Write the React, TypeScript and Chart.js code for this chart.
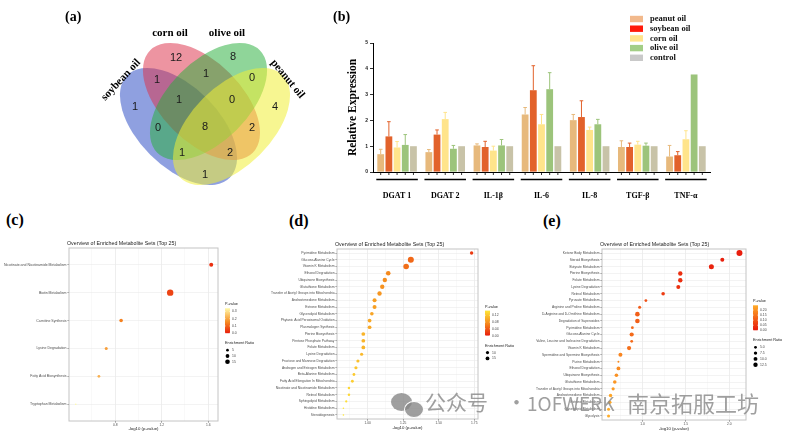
import React, { useEffect, useRef } from 'react';
import { Chart, registerables } from 'chart.js';
Chart.register(...registerables);

// ---------------- Data ----------------
// (a) Venn
const vennSets = ['soybean oil', 'corn oil', 'olive oil', 'peanut oil'];
const vennRegionKeys = ['A', 'B', 'C', 'D', 'AB', 'BC', 'CD', 'AC', 'BD', 'AD', 'ABC', 'BCD', 'ACD', 'ABD', 'ABCD'];
const vennCounts = [1, 12, 8, 4, 1, 1, 0, 0, 2, 1, 1, 0, 1, 2, 8];

// (b) qPCR bars
const genes = ['DGAT 1', 'DGAT 2', 'IL-1β', 'IL-6', 'IL-8', 'TGF-β', 'TNF-α'];
const oils = ['peanut oil', 'soybean oil', 'corn oil', 'olive oil', 'control'];
const peanutMean = [0.69, 0.77, 1.03, 2.23, 2.01, 0.97, 0.6];
const peanutSd = [0.19, 0.1, 0.06, 0.27, 0.22, 0.24, 0.43];
const soybeanMean = [1.38, 1.45, 0.97, 3.17, 2.13, 0.97, 0.65];
const soybeanSd = [0.57, 0.18, 0.22, 0.95, 0.63, 0.15, 0.14];
const cornMean = [0.95, 2.05, 0.83, 1.85, 1.63, 1.06, 1.27];
const cornSd = [0.23, 0.26, 0.17, 0.38, 0.11, 0.13, 0.33];
const oliveMean = [1.05, 0.9, 1.03, 3.21, 1.85, 1.02, 3.78];
const oliveSd = [0.4, 0.13, 0.23, 0.64, 0.19, 0.1, 0];
const controlMean = [1, 1, 1, 1, 1, 1, 1];
const controlSd = [0, 0, 0, 0, 0, 0, 0];
const yTicksB = [0, 1, 2, 3, 4, 5];

// (c) enrichment
const cSets = ['Nicotinate and Nicotinamide Metabolism', 'Biotin Metabolism', 'Carnitine Synthesis', 'Lysine Degradation', 'Fatty Acid Biosynthesis', 'Tryptophan Metabolism'];
const cLogP = [1.626, 1.273, 0.851, 0.723, 0.66, 0.461];
const cRatio = [11.1, 28.4, 9.0, 6.3, 5.4, 1.8];
const cMajor = [0.8, 1.2, 1.6];
const cMinor = [0.6, 1.0, 1.4];
const cPTicks = [0, 0.1, 0.2, 0.3];
const cRatioLegend = [5, 10, 15];

// (d) enrichment
const dSets = ['Pyrimidine Metabolism', 'Glucose-Alanine Cycle', 'Vitamin K Metabolism', 'Ethanol Degradation', 'Ubiquinone Biosynthesis', 'Glutathione Metabolism', 'Transfer of Acetyl Groups into Mitochondria', 'Androstenedione Metabolism', 'Estrone Metabolism', 'Glycerolipid Metabolism', 'Phytanic Acid Peroxisomal Oxidation', 'Plasmalogen Synthesis', 'Pterine Biosynthesis', 'Pentose Phosphate Pathway', 'Folate Metabolism', 'Lysine Degradation', 'Fructose and Mannose Degradation', 'Androgen and Estrogen Metabolism', 'Beta-Alanine Metabolism', 'Fatty Acid Elongation In Mitochondria', 'Nicotinate and Nicotinamide Metabolism', 'Retinol Metabolism', 'Sphingolipid Metabolism', 'Histidine Metabolism', 'Steroidogenesis'];
const dLogP = [1.731, 1.304, 1.271, 1.145, 1.121, 1.103, 1.084, 1.049, 1.049, 1.03, 1.014, 1.014, 0.97, 0.97, 0.97, 0.958, 0.932, 0.918, 0.904, 0.893, 0.869, 0.869, 0.85, 0.83, 0.83];
const dRatio = [11.6, 36, 31, 21, 19, 19, 19, 16, 16, 13, 14, 14, 14, 14, 14, 10, 10, 10, 8, 8, 6.3, 6.3, 5, 2.6, 2.6];
const dMajor = [1.0, 1.25, 1.5, 1.75];
const dMinor = [0.875, 1.125, 1.375, 1.625];
const dPTicks = [0, 0.04, 0.08, 0.12];
const dRatioLegend = [10, 15];

// (e) enrichment
const eSets = ['Ketone Body Metabolism', 'Steroid Biosynthesis', 'Butyrate Metabolism', 'Pterine Biosynthesis', 'Folate Metabolism', 'Lysine Degradation', 'Retinol Metabolism', 'Pyruvate Metabolism', 'Arginine and Proline Metabolism', 'D-Arginine and D-Ornithine Metabolism', 'Degradation of Superoxides', 'Pyrimidine Metabolism', 'Glucose-Alanine Cycle', 'Valine, Leucine and Isoleucine Degradation', 'Vitamin K Metabolism', 'Spermidine and Spermine Biosynthesis', 'Purine Metabolism', 'Ethanol Degradation', 'Ubiquinone Biosynthesis', 'Glutathione Metabolism', 'Transfer of Acetyl Groups into Mitochondria', 'Androstenedione Metabolism', 'Estrone Metabolism', 'Glycerolipid Metabolism', 'Glycolysis'];
const eLogP = [2.118, 1.92, 1.794, 1.435, 1.435, 1.412, 1.237, 1.038, 0.966, 0.94, 0.94, 0.882, 0.874, 0.874, 0.844, 0.744, 0.721, 0.721, 0.698, 0.679, 0.66, 0.63, 0.622, 0.607, 0.607];
const eRatio = [23.4, 10.4, 16.3, 12.6, 12.6, 10.4, 8.4, 5.1, 5.9, 13.8, 13.8, 5.1, 11.5, 5.1, 11.5, 10.4, 2.6, 9.4, 8.4, 8.4, 6.7, 7.5, 7.5, 5.9, 5.9];
const eMajor = [1.0, 1.5, 2.0];
const eMinor = [0.75, 1.25, 1.75];
const ePTicks = [0, 0.05, 0.1, 0.15, 0.2];
const eRatioLegend = [5, 7.5, 10, 12.5];

// ---------------- Styles ----------------
const SERIF = '"Liberation Serif", "Times New Roman", serif';
const SANS = '"Liberation Sans", Arial, sans-serif';

const VENN_COLORS = ['rgba(55,85,200,0.56)', 'rgba(220,50,75,0.52)', 'rgba(40,175,60,0.52)', 'rgba(240,238,55,0.55)'];
const VENN_ELLIPSES = [
  { cx: 178.5, cy: 126.5, rot: Math.PI / 4 },
  { cx: 201.5, cy: 101.5, rot: Math.PI / 4 },
  { cx: 208.5, cy: 101.5, rot: -Math.PI / 4 },
  { cx: 231.5, cy: 126.5, rot: -Math.PI / 4 },
];
const VENN_A = 72.5;
const VENN_B = 40;
const VENN_POS: Record<string, [number, number]> = {
  A: [135, 107], B: [176, 58], C: [233, 57], D: [275, 107],
  AB: [157, 80], BC: [206, 74], CD: [252, 78], AC: [158, 128], BD: [252, 128], AD: [205, 175],
  ABC: [179, 100], BCD: [232, 100], ACD: [182, 153], ABD: [230, 153], ABCD: [205, 127],
};
const VENN_LABEL_POS: [number, number, number][] = [
  [121, 80, -0.82], [170, 33, 0], [227, 33, 0], [287.5, 79, 0.88],
];

const BAR_COLORS = ['#E7B97C', '#E2622B', '#FFE48B', '#9CC47B', '#C8C3A8'];
const LEGEND_COLORS = ['#F2B98C', '#FF1A0A', '#FFE48C', '#A3CE86', '#C9C9C9'];

type Stops = [number, number[]][];
function interp(stops: Stops, t: number) {
  t = Math.max(0, Math.min(1, t));
  for (let i = 0; i < stops.length - 1; i++) {
    const [t0, c0] = stops[i];
    const [t1, c1] = stops[i + 1];
    if (t <= t1) {
      const f = (t - t0) / (t1 - t0);
      const c = c0.map((v, k) => Math.round(v + (c1[k] - v) * f));
      return `rgb(${c[0]},${c[1]},${c[2]})`;
    }
  }
  const c = stops[stops.length - 1][1];
  return `rgb(${c[0]},${c[1]},${c[2]})`;
}

// ---------------- Venn ----------------
function makeVenn(canvas: HTMLCanvasElement) {
  const plugin = {
    id: 'vennDraw',
    afterDraw(chart: any) {
      const { ctx } = chart;
      const xs = chart.scales.x;
      const ys = chart.scales.y;
      ctx.save();
      VENN_ELLIPSES.forEach((e, i) => {
        const cx = xs.getPixelForValue(e.cx);
        const cy = ys.getPixelForValue(e.cy);
        const a = xs.getPixelForValue(e.cx + VENN_A) - cx;
        const b = xs.getPixelForValue(e.cx + VENN_B) - cx;
        ctx.beginPath();
        ctx.ellipse(cx, cy, a, b, e.rot, 0, Math.PI * 2);
        ctx.fillStyle = VENN_COLORS[i];
        ctx.fill();
      });
      ctx.fillStyle = '#1a1a1a';
      ctx.font = `11px ${SANS}`;
      ctx.textAlign = 'center';
      ctx.textBaseline = 'middle';
      vennRegionKeys.forEach((k, i) => {
        const [px, py] = VENN_POS[k];
        ctx.fillText(String(vennCounts[i]), xs.getPixelForValue(px), ys.getPixelForValue(py));
      });
      ctx.font = `bold 11px ${SERIF}`;
      ctx.fillStyle = '#000';
      vennSets.forEach((name, i) => {
        const [px, py, rot] = VENN_LABEL_POS[i];
        ctx.save();
        ctx.translate(xs.getPixelForValue(px), ys.getPixelForValue(py));
        ctx.rotate(rot);
        ctx.fillText(name, 0, 0);
        ctx.restore();
      });
      ctx.restore();
    },
  };
  return new Chart(canvas, {
    type: 'scatter',
    data: { datasets: [] },
    options: {
      animation: false, responsive: false, events: [],
      layout: { padding: 0 },
      plugins: { legend: { display: false }, tooltip: { enabled: false } },
      scales: {
        x: { display: false, min: 0, max: 330 },
        y: { display: false, min: 0, max: 200, reverse: true },
      },
    },
    plugins: [plugin],
  } as any);
}

// ---------------- Bars ----------------
function makeBars(canvas: HTMLCanvasElement) {
  const means = [peanutMean, soybeanMean, cornMean, oliveMean, controlMean];
  const sds = [peanutSd, soybeanSd, cornSd, oliveSd, controlSd];
  const deco = {
    id: 'barDeco',
    afterDatasetsDraw(chart: any) {
      const { ctx, chartArea } = chart;
      const ys = chart.scales.y;
      ctx.save();
      means.forEach((m, k) => {
        const meta = chart.getDatasetMeta(k);
        ctx.strokeStyle = BAR_COLORS[k];
        ctx.lineWidth = 1;
        m.forEach((v, i) => {
          const sd = sds[k][i];
          if (!sd) return;
          const el = meta.data[i];
          const y0 = ys.getPixelForValue(v);
          const y1 = ys.getPixelForValue(v + sd);
          ctx.beginPath();
          ctx.moveTo(el.x, y0);
          ctx.lineTo(el.x, y1);
          ctx.moveTo(el.x - 1.8, y1);
          ctx.lineTo(el.x + 1.8, y1);
          ctx.stroke();
        });
      });
      ctx.strokeStyle = '#000';
      ctx.lineWidth = 0.8;
      means.forEach((m, k) => {
        const meta = chart.getDatasetMeta(k);
        meta.data.forEach((el: any) => {
          ctx.beginPath();
          ctx.moveTo(el.x, chartArea.bottom);
          ctx.lineTo(el.x, chartArea.bottom + 3);
          ctx.stroke();
        });
      });
      const first = chart.getDatasetMeta(0);
      const last = chart.getDatasetMeta(means.length - 1);
      ctx.lineWidth = 1.6;
      genes.forEach((_, i) => {
        const a = first.data[i];
        const b = last.data[i];
        ctx.beginPath();
        ctx.moveTo(a.x - a.width / 2 - 1, chartArea.bottom + 7.5);
        ctx.lineTo(b.x + b.width / 2 + 1, chartArea.bottom + 7.5);
        ctx.stroke();
      });
      ctx.font = `bold 8.5px ${SERIF}`;
      ctx.textBaseline = 'middle';
      ctx.textAlign = 'left';
      oils.forEach((name, k) => {
        const y = 19 + k * 9.7;
        ctx.fillStyle = LEGEND_COLORS[k];
        ctx.fillRect(300, y - 3.2, 13, 6.4);
        ctx.fillStyle = '#111';
        ctx.fillText(name, 320, y);
      });
      ctx.restore();
    },
  };
  return new Chart(canvas, {
    type: 'bar',
    data: {
      labels: genes,
      datasets: oils.map((name, k) => ({
        label: name,
        data: means[k],
        backgroundColor: BAR_COLORS[k],
        borderWidth: 0,
        categoryPercentage: 0.85,
        barPercentage: 0.83,
      })),
    },
    options: {
      animation: false, responsive: false, events: [],
      layout: { padding: { top: 43, right: 81, left: 0, bottom: 0 } },
      plugins: { legend: { display: false }, tooltip: { enabled: false } },
      scales: {
        x: {
          grid: { display: false },
          border: { display: true, color: '#000', width: 1 },
          ticks: { font: { family: SERIF, size: 8, weight: 'bold' }, color: '#000', padding: 11, maxRotation: 0, autoSkip: false },
          afterFit: (s: any) => { s.height = 28; },
        },
        y: {
          min: 0, max: 5,
          afterBuildTicks: (s: any) => { s.ticks = yTicksB.map((v) => ({ value: v })); },
          ticks: { font: { family: SANS, size: 5, weight: 'bold' }, color: '#222', padding: 2 },
          grid: { display: true, drawOnChartArea: false, drawTicks: true, tickLength: 3, color: '#000', lineWidth: 0.8 },
          border: { display: true, color: '#000', width: 1 },
          title: { display: true, text: 'Relative Expression', font: { family: SERIF, size: 11.5, weight: 'bold' }, color: '#000', padding: { top: 16, bottom: 0 } },
          afterFit: (s: any) => { s.width = 43; },
        },
      },
    },
    plugins: [deco],
  } as any);
}

// ---------------- Bubbles ----------------
type BubbleSpec = {
  sets: string[]; logP: number[]; ratio: number[]; sizeK: number;
  major: number[]; minor: number[]; fmt: (v: number) => string;
  pTicks: number[]; pFmt: (v: number) => string; ratioLegend: number[]; rFmt: (v: number) => string;
  stops: Stops; yW: number; padTop: number; padRight: number; xH: number; titlePad: number; fs: number;
};

function makeBubble(canvas: HTMLCanvasElement, sp: BubbleSpec) {
  const pvals = sp.logP.map((v) => Math.pow(10, -v));
  const pmax = Math.max(...pvals);
  const lo = Math.min(...sp.logP);
  const hi = Math.max(...sp.logP);
  const ext = (hi - lo) * 0.05;
  const n = sp.sets.length;
  const allTicks = [...sp.major, ...sp.minor].sort((a, b) => a - b);
  const isMajor = (v: number) => sp.major.some((m) => Math.abs(m - v) < 1e-9);
  const colors = pvals.map((p) => interp(sp.stops, p / pmax));
  const rad = (er: number) => sp.sizeK * Math.sqrt(er);

  const deco = {
    id: 'bubbleDeco',
    afterDraw(chart: any) {
      const { ctx, chartArea: ca } = chart;
      ctx.save();
      ctx.strokeStyle = '#c4c4c4';
      ctx.lineWidth = 1;
      ctx.strokeRect(ca.left, ca.top, ca.right - ca.left, ca.bottom - ca.top);
      ctx.fillStyle = '#222';
      ctx.font = `5.3px ${SANS}`;
      ctx.textAlign = 'left';
      ctx.textBaseline = 'bottom';
      ctx.fillText('Overview of Enriched Metabolite Sets (Top 25)', ca.left - 2, ca.top - 2);
      const lx = ca.right + 7;
      const cy = (ca.top + ca.bottom) / 2;
      const nr = sp.ratioLegend.length;
      const total = 6 + 25 + 10 + 7 + (nr - 1) * 5.8 + 3;
      const top = cy - total / 2;
      ctx.textBaseline = 'middle';
      ctx.font = `3.8px ${SANS}`;
      ctx.fillStyle = '#222';
      ctx.fillText('P-value', lx, top + 1);
      const barTop = top + 5;
      const barBot = barTop + 25;
      const g = ctx.createLinearGradient(0, barBot, 0, barTop);
      sp.stops.forEach(([t, c]) => g.addColorStop(t, `rgb(${c[0]},${c[1]},${c[2]})`));
      ctx.fillStyle = g;
      ctx.fillRect(lx, barTop, 5, 25);
      ctx.font = `3.4px ${SANS}`;
      sp.pTicks.forEach((v) => {
        const y = barBot - (v / pmax) * 25;
        ctx.strokeStyle = '#fff';
        ctx.lineWidth = 0.4;
        ctx.beginPath();
        ctx.moveTo(lx, y); ctx.lineTo(lx + 1, y);
        ctx.moveTo(lx + 4, y); ctx.lineTo(lx + 5, y);
        ctx.stroke();
        ctx.fillStyle = '#444';
        ctx.fillText(sp.pFmt(v), lx + 7, y);
      });
      ctx.font = `3.8px ${SANS}`;
      ctx.fillStyle = '#222';
      const erY = barBot + 10;
      ctx.fillText('Enrichment Ratio', lx, erY);
      sp.ratioLegend.forEach((v, i) => {
        const y = erY + 7 + i * 5.8;
        ctx.fillStyle = '#000';
        ctx.beginPath();
        ctx.arc(lx + 2.5, y, rad(v), 0, Math.PI * 2);
        ctx.fill();
        ctx.fillStyle = '#444';
        ctx.font = `3.4px ${SANS}`;
        ctx.fillText(sp.rFmt(v), lx + 7, y);
      });
      ctx.restore();
    },
  };

  return new Chart(canvas, {
    type: 'bubble',
    data: {
      datasets: [{
        data: sp.logP.map((x, i) => ({ x, y: i, r: rad(sp.ratio[i]) })),
        backgroundColor: colors,
        borderWidth: 0,
        hoverRadius: 0,
      }],
    },
    options: {
      animation: false, responsive: false, events: [],
      layout: { padding: { top: sp.padTop, right: sp.padRight, left: 0, bottom: 0 } },
      plugins: { legend: { display: false }, tooltip: { enabled: false } },
      scales: {
        x: {
          type: 'linear', min: lo - ext, max: hi + ext,
          afterBuildTicks: (s: any) => { s.ticks = allTicks.map((v) => ({ value: v })); },
          afterFit: (s: any) => { s.height = sp.xH; },
          ticks: {
            autoSkip: false, maxRotation: 0, padding: 0.8, color: '#4d4d4d',
            font: { family: SANS, size: 3.3 },
            callback: (_v: any, idx: number, ticks: any[]) => (isMajor(ticks[idx].value) ? sp.fmt(ticks[idx].value) : ''),
          },
          grid: {
            color: (c: any) => (c.tick && isMajor(c.tick.value) ? '#e6e6e6' : '#f1f1f1'),
            lineWidth: (c: any) => (c.tick && isMajor(c.tick.value) ? 0.7 : 0.45),
            drawTicks: true, tickLength: 1.5,
            tickColor: (c: any) => (c.tick && isMajor(c.tick.value) ? '#444' : 'rgba(0,0,0,0)'),
          },
          border: { display: false },
          title: { display: true, text: '-log10 (p-value)', color: '#222', font: { family: SANS, size: 4.3 }, padding: { top: 0, bottom: sp.titlePad } },
        },
        y: {
          type: 'linear', reverse: true, min: -0.6, max: n - 0.4,
          afterBuildTicks: (s: any) => { s.ticks = sp.sets.map((_, i) => ({ value: i })); },
          afterFit: (s: any) => { s.width = sp.yW; },
          ticks: {
            autoSkip: false, padding: 1, color: '#4d4d4d',
            font: { family: SANS, size: sp.fs },
            callback: (_v: any, idx: number) => sp.sets[idx],
          },
          grid: { color: '#ebebeb', lineWidth: 0.6, drawTicks: true, tickLength: 1.5, tickColor: '#444' },
          border: { display: false },
        },
      },
    },
    plugins: [deco],
  } as any);
}

const specC: BubbleSpec = {
  sets: cSets, logP: cLogP, ratio: cRatio, sizeK: 0.6,
  major: cMajor, minor: cMinor, fmt: (v) => v.toFixed(1),
  pTicks: cPTicks, pFmt: (v) => v.toFixed(1), ratioLegend: cRatioLegend, rFmt: (v) => String(v),
  stops: [[0, [232, 30, 12]], [0.45, [246, 140, 35]], [1, [255, 250, 172]]],
  yW: 69, padTop: 12, padRight: 44, xH: 14, titlePad: 3.4, fs: 3.5,
};
const specD: BubbleSpec = {
  sets: dSets, logP: dLogP, ratio: dRatio, sizeK: 0.5,
  major: dMajor, minor: dMinor, fmt: (v) => v.toFixed(2),
  pTicks: dPTicks, pFmt: (v) => v.toFixed(2), ratioLegend: dRatioLegend, rFmt: (v) => String(v),
  stops: [[0, [232, 30, 12]], [0.5, [245, 140, 30]], [1, [255, 230, 55]]],
  yW: 75, padTop: 13, padRight: 52, xH: 16, titlePad: 4.4, fs: 3.3,
};
const specE: BubbleSpec = {
  sets: eSets, logP: eLogP, ratio: eRatio, sizeK: 0.62,
  major: eMajor, minor: eMinor, fmt: (v) => v.toFixed(1),
  pTicks: ePTicks, pFmt: (v) => v.toFixed(2), ratioLegend: eRatioLegend, rFmt: (v) => v.toFixed(1),
  stops: [[0, [232, 25, 12]], [0.5, [243, 100, 25]], [1, [255, 172, 40]]],
  yW: 72, padTop: 13, padRight: 45, xH: 15, titlePad: 3.7, fs: 3.3,
};

const abs = (l: number, t: number): React.CSSProperties => ({ position: 'absolute', left: l, top: t });

export default function App() {
  const vennRef = useRef<HTMLCanvasElement>(null);
  const barRef = useRef<HTMLCanvasElement>(null);
  const cRef = useRef<HTMLCanvasElement>(null);
  const dRef = useRef<HTMLCanvasElement>(null);
  const eRef = useRef<HTMLCanvasElement>(null);

  useEffect(() => {
    document.body.style.margin = '0';
    const charts = [
      makeVenn(vennRef.current!),
      makeBars(barRef.current!),
      makeBubble(cRef.current!, specC),
      makeBubble(dRef.current!, specD),
      makeBubble(eRef.current!, specE),
    ];
    return () => charts.forEach((c) => c.destroy());
  }, []);

  const panelLabel = (text: string, l: number, t: number, size: number) => (
    <div style={{ ...abs(l, t), font: `bold ${size}px ${SERIF}`, lineHeight: 1, color: '#000' }}>{text}</div>
  );
  const wm = 'rgba(135,135,135,0.8)';
  const wmFont = (s: number) => `${s}px "Noto Sans CJK SC", sans-serif`;

  return (
    <div style={{ position: 'absolute', left: 0, top: 0, width: 791, height: 435, background: '#fff', overflow: 'hidden' }}>
      <canvas ref={vennRef} width={330} height={200} style={{ ...abs(0, 0), display: 'block' }} />
      <canvas ref={barRef} width={461} height={200} style={{ ...abs(330, 0), display: 'block' }} />
      <canvas ref={cRef} width={262} height={199} style={{ ...abs(0, 236), display: 'block' }} />
      <canvas ref={dRef} width={268} height={199} style={{ ...abs(262, 236), display: 'block' }} />
      <canvas ref={eRef} width={261} height={199} style={{ ...abs(530, 236), display: 'block' }} />
      {panelLabel('(a)', 65, 10, 14)}
      {panelLabel('(b)', 333, 10, 14)}
      {panelLabel('(c)', 6, 212, 16)}
      {panelLabel('(d)', 289, 213, 16)}
      {panelLabel('(e)', 543, 213, 16)}
      <div style={{ ...abs(391, 393), width: 21, height: 18, borderRadius: '50%', background: wm }} />
      <div style={{ ...abs(404, 401), width: 18, height: 15, borderRadius: '50%', background: wm, border: '1.5px solid #fff' }} />
      <div style={{ ...abs(425, 391), font: wmFont(21), lineHeight: 1, color: wm }}>公众号</div>
      <div style={{ ...abs(506, 391), font: wmFont(21), lineHeight: 1, color: wm }}>·</div>
      <div style={{ ...abs(527, 393), font: wmFont(19), lineHeight: 1, color: wm }}>1OFWERK</div>
      <div style={{ ...abs(627, 391), font: wmFont(22), lineHeight: 1, color: wm }}>南京拓服工坊</div>
    </div>
  );
}
